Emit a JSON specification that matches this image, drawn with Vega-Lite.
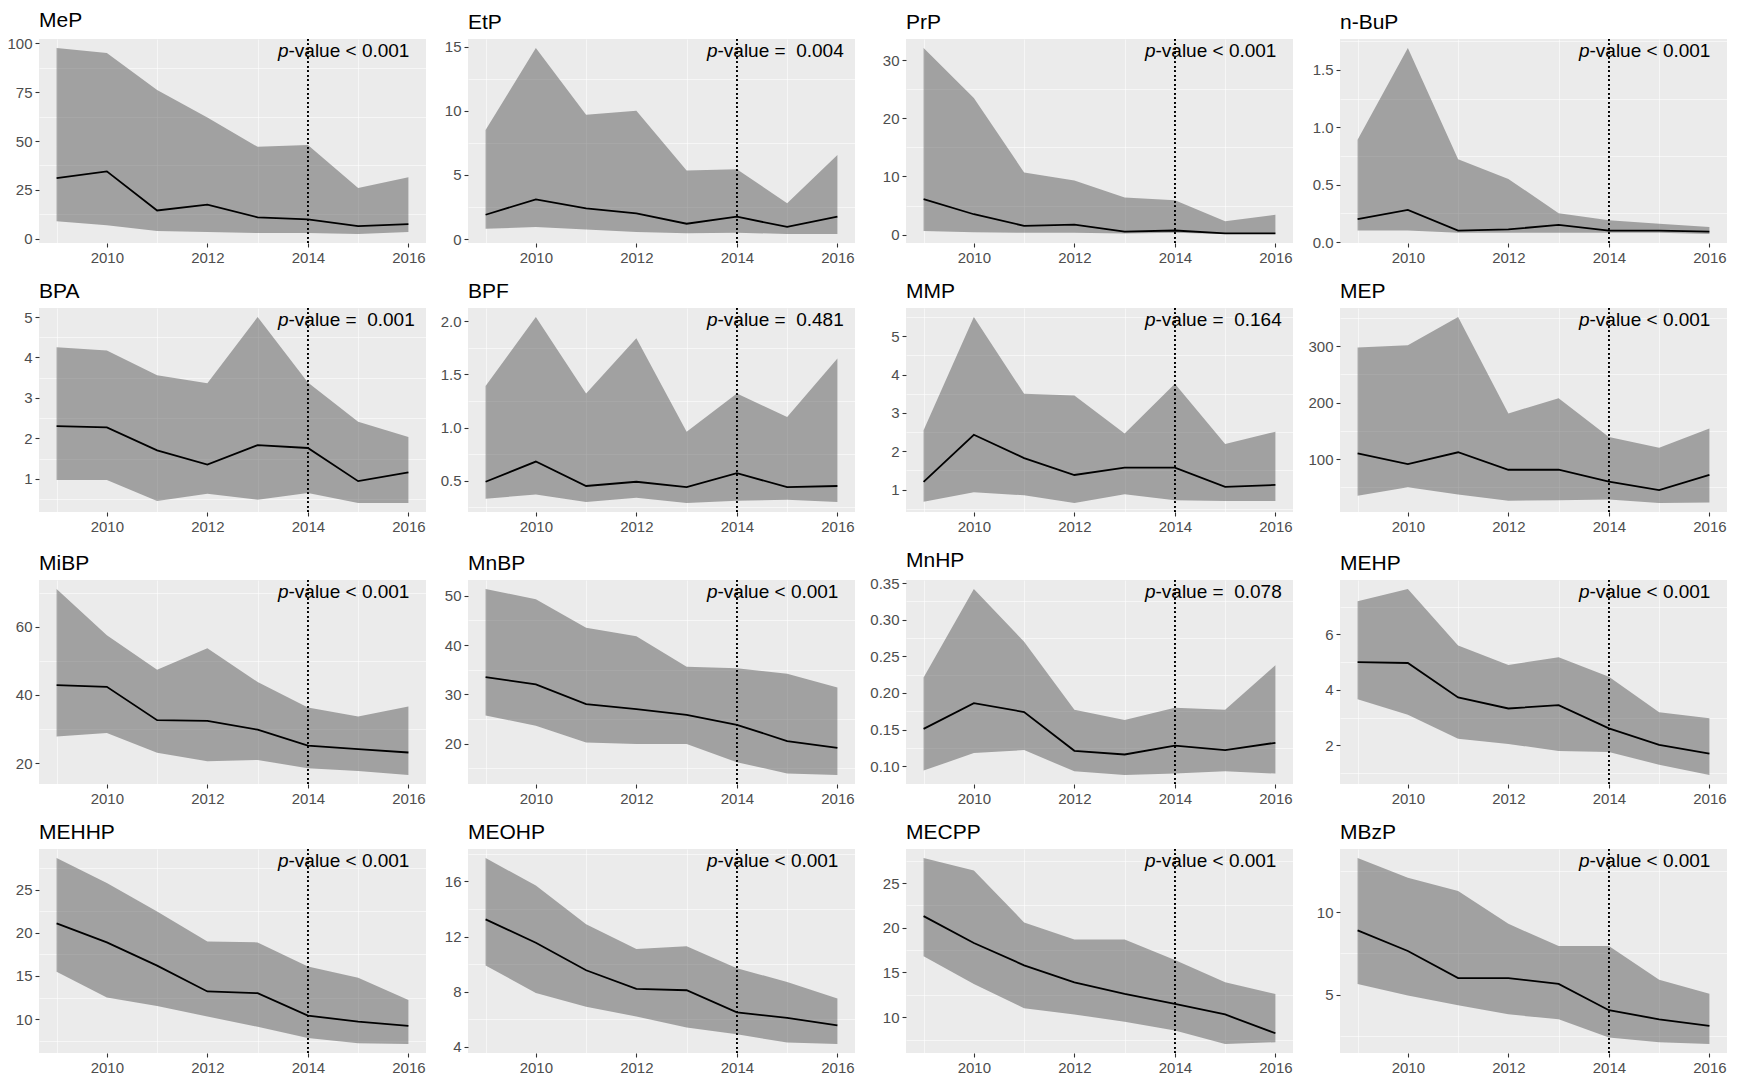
{
"$schema": "https://vega.github.io/schema/vega-lite/v6.json",
"padding": {"left": 6, "top": 10, "right": 0, "bottom": 0},
"columns": 4,
"spacing": {"row": 16, "column": 14},
"data": {"values": [
{"c":"MeP","year":2009,"lo":9,"med":31,"hi":97.5},
{"c":"MeP","year":2010,"lo":7,"med":34.5,"hi":95},
{"c":"MeP","year":2011,"lo":4,"med":14.5,"hi":76},
{"c":"MeP","year":2012,"lo":3.5,"med":17.5,"hi":62},
{"c":"MeP","year":2013,"lo":3,"med":11,"hi":47},
{"c":"MeP","year":2014,"lo":3,"med":10,"hi":48},
{"c":"MeP","year":2015,"lo":2.5,"med":6.5,"hi":26},
{"c":"MeP","year":2016,"lo":3.5,"med":7.5,"hi":31.5},
{"c":"EtP","year":2009,"lo":0.8,"med":1.9,"hi":8.5},
{"c":"EtP","year":2010,"lo":0.95,"med":3.1,"hi":14.9},
{"c":"EtP","year":2011,"lo":0.75,"med":2.4,"hi":9.7},
{"c":"EtP","year":2012,"lo":0.55,"med":2.0,"hi":10.0},
{"c":"EtP","year":2013,"lo":0.45,"med":1.2,"hi":5.35},
{"c":"EtP","year":2014,"lo":0.5,"med":1.75,"hi":5.45},
{"c":"EtP","year":2015,"lo":0.4,"med":0.95,"hi":2.8},
{"c":"EtP","year":2016,"lo":0.4,"med":1.75,"hi":6.55},
{"c":"PrP","year":2009,"lo":0.6,"med":6.1,"hi":32.1},
{"c":"PrP","year":2010,"lo":0.4,"med":3.5,"hi":23.5},
{"c":"PrP","year":2011,"lo":0.3,"med":1.5,"hi":10.7},
{"c":"PrP","year":2012,"lo":0.3,"med":1.7,"hi":9.3},
{"c":"PrP","year":2013,"lo":0.2,"med":0.5,"hi":6.4},
{"c":"PrP","year":2014,"lo":0.3,"med":0.7,"hi":5.9},
{"c":"PrP","year":2015,"lo":0.1,"med":0.2,"hi":2.3},
{"c":"PrP","year":2016,"lo":0.1,"med":0.2,"hi":3.4},
{"c":"n-BuP","year":2009,"lo":0.1,"med":0.2,"hi":0.89},
{"c":"n-BuP","year":2010,"lo":0.1,"med":0.28,"hi":1.69},
{"c":"n-BuP","year":2011,"lo":0.08,"med":0.1,"hi":0.72},
{"c":"n-BuP","year":2012,"lo":0.08,"med":0.11,"hi":0.55},
{"c":"n-BuP","year":2013,"lo":0.08,"med":0.15,"hi":0.25},
{"c":"n-BuP","year":2014,"lo":0.08,"med":0.1,"hi":0.19},
{"c":"n-BuP","year":2015,"lo":0.08,"med":0.1,"hi":0.16},
{"c":"n-BuP","year":2016,"lo":0.07,"med":0.09,"hi":0.13},
{"c":"BPA","year":2009,"lo":0.97,"med":2.3,"hi":4.25},
{"c":"BPA","year":2010,"lo":0.97,"med":2.27,"hi":4.17},
{"c":"BPA","year":2011,"lo":0.45,"med":1.7,"hi":3.56},
{"c":"BPA","year":2012,"lo":0.63,"med":1.35,"hi":3.36},
{"c":"BPA","year":2013,"lo":0.48,"med":1.83,"hi":5.0},
{"c":"BPA","year":2014,"lo":0.65,"med":1.76,"hi":3.38},
{"c":"BPA","year":2015,"lo":0.4,"med":0.94,"hi":2.41},
{"c":"BPA","year":2016,"lo":0.4,"med":1.16,"hi":2.03},
{"c":"BPF","year":2009,"lo":0.33,"med":0.49,"hi":1.39},
{"c":"BPF","year":2010,"lo":0.37,"med":0.68,"hi":2.04},
{"c":"BPF","year":2011,"lo":0.3,"med":0.45,"hi":1.32},
{"c":"BPF","year":2012,"lo":0.34,"med":0.49,"hi":1.84},
{"c":"BPF","year":2013,"lo":0.29,"med":0.44,"hi":0.96},
{"c":"BPF","year":2014,"lo":0.31,"med":0.57,"hi":1.32},
{"c":"BPF","year":2015,"lo":0.32,"med":0.44,"hi":1.1},
{"c":"BPF","year":2016,"lo":0.3,"med":0.45,"hi":1.65},
{"c":"MMP","year":2009,"lo":0.68,"med":1.2,"hi":2.55},
{"c":"MMP","year":2010,"lo":0.93,"med":2.43,"hi":5.5},
{"c":"MMP","year":2011,"lo":0.85,"med":1.82,"hi":3.5},
{"c":"MMP","year":2012,"lo":0.65,"med":1.38,"hi":3.45},
{"c":"MMP","year":2013,"lo":0.88,"med":1.57,"hi":2.46},
{"c":"MMP","year":2014,"lo":0.72,"med":1.57,"hi":3.76},
{"c":"MMP","year":2015,"lo":0.7,"med":1.07,"hi":2.19},
{"c":"MMP","year":2016,"lo":0.7,"med":1.12,"hi":2.51},
{"c":"MEP","year":2009,"lo":35,"med":110,"hi":298},
{"c":"MEP","year":2010,"lo":50,"med":91,"hi":302},
{"c":"MEP","year":2011,"lo":37,"med":112,"hi":352},
{"c":"MEP","year":2012,"lo":26,"med":81,"hi":181},
{"c":"MEP","year":2013,"lo":27,"med":81,"hi":208},
{"c":"MEP","year":2014,"lo":28,"med":60,"hi":139},
{"c":"MEP","year":2015,"lo":22,"med":45,"hi":120},
{"c":"MEP","year":2016,"lo":23,"med":72,"hi":154},
{"c":"MiBP","year":2009,"lo":27.8,"med":42.9,"hi":71.1},
{"c":"MiBP","year":2010,"lo":28.8,"med":42.4,"hi":57.5},
{"c":"MiBP","year":2011,"lo":23.0,"med":32.6,"hi":47.4},
{"c":"MiBP","year":2012,"lo":20.5,"med":32.4,"hi":53.7},
{"c":"MiBP","year":2013,"lo":20.9,"med":29.8,"hi":43.8},
{"c":"MiBP","year":2014,"lo":18.5,"med":25.1,"hi":36.3},
{"c":"MiBP","year":2015,"lo":17.7,"med":24.1,"hi":33.7},
{"c":"MiBP","year":2016,"lo":16.5,"med":23.1,"hi":36.6},
{"c":"MnBP","year":2009,"lo":25.7,"med":33.5,"hi":51.4},
{"c":"MnBP","year":2010,"lo":23.6,"med":32.0,"hi":49.3},
{"c":"MnBP","year":2011,"lo":20.2,"med":28.0,"hi":43.5},
{"c":"MnBP","year":2012,"lo":19.9,"med":27.0,"hi":41.8},
{"c":"MnBP","year":2013,"lo":19.9,"med":25.8,"hi":35.6},
{"c":"MnBP","year":2014,"lo":16.2,"med":23.8,"hi":35.3},
{"c":"MnBP","year":2015,"lo":13.9,"med":20.5,"hi":34.2},
{"c":"MnBP","year":2016,"lo":13.6,"med":19.1,"hi":31.4},
{"c":"MnHP","year":2009,"lo":0.094,"med":0.151,"hi":0.221},
{"c":"MnHP","year":2010,"lo":0.118,"med":0.186,"hi":0.342},
{"c":"MnHP","year":2011,"lo":0.122,"med":0.174,"hi":0.27},
{"c":"MnHP","year":2012,"lo":0.093,"med":0.121,"hi":0.177},
{"c":"MnHP","year":2013,"lo":0.088,"med":0.116,"hi":0.163},
{"c":"MnHP","year":2014,"lo":0.09,"med":0.128,"hi":0.18},
{"c":"MnHP","year":2015,"lo":0.093,"med":0.122,"hi":0.177},
{"c":"MnHP","year":2016,"lo":0.09,"med":0.132,"hi":0.238},
{"c":"MEHP","year":2009,"lo":3.66,"med":5.0,"hi":7.2},
{"c":"MEHP","year":2010,"lo":3.1,"med":4.97,"hi":7.64},
{"c":"MEHP","year":2011,"lo":2.24,"med":3.73,"hi":5.6},
{"c":"MEHP","year":2012,"lo":2.05,"med":3.33,"hi":4.9},
{"c":"MEHP","year":2013,"lo":1.8,"med":3.45,"hi":5.18},
{"c":"MEHP","year":2014,"lo":1.76,"med":2.61,"hi":4.47},
{"c":"MEHP","year":2015,"lo":1.3,"med":2.02,"hi":3.19},
{"c":"MEHP","year":2016,"lo":0.93,"med":1.7,"hi":2.98},
{"c":"MEHHP","year":2009,"lo":15.5,"med":21.1,"hi":28.7},
{"c":"MEHHP","year":2010,"lo":12.5,"med":18.9,"hi":25.8},
{"c":"MEHHP","year":2011,"lo":11.5,"med":16.2,"hi":22.5},
{"c":"MEHHP","year":2012,"lo":10.3,"med":13.2,"hi":19.0},
{"c":"MEHHP","year":2013,"lo":9.1,"med":13.0,"hi":18.9},
{"c":"MEHHP","year":2014,"lo":7.8,"med":10.4,"hi":16.1},
{"c":"MEHHP","year":2015,"lo":7.2,"med":9.7,"hi":14.8},
{"c":"MEHHP","year":2016,"lo":7.1,"med":9.2,"hi":12.2},
{"c":"MEOHP","year":2009,"lo":9.9,"med":13.25,"hi":17.7},
{"c":"MEOHP","year":2010,"lo":7.9,"med":11.55,"hi":15.7},
{"c":"MEOHP","year":2011,"lo":6.9,"med":9.55,"hi":12.9},
{"c":"MEOHP","year":2012,"lo":6.2,"med":8.2,"hi":11.1},
{"c":"MEOHP","year":2013,"lo":5.4,"med":8.1,"hi":11.3},
{"c":"MEOHP","year":2014,"lo":4.9,"med":6.5,"hi":9.7},
{"c":"MEOHP","year":2015,"lo":4.3,"med":6.1,"hi":8.7},
{"c":"MEOHP","year":2016,"lo":4.2,"med":5.55,"hi":7.5},
{"c":"MECPP","year":2009,"lo":16.8,"med":21.3,"hi":27.8},
{"c":"MECPP","year":2010,"lo":13.7,"med":18.3,"hi":26.4},
{"c":"MECPP","year":2011,"lo":11.0,"med":15.8,"hi":20.6},
{"c":"MECPP","year":2012,"lo":10.3,"med":13.9,"hi":18.7},
{"c":"MECPP","year":2013,"lo":9.5,"med":12.6,"hi":18.7},
{"c":"MECPP","year":2014,"lo":8.5,"med":11.5,"hi":16.4},
{"c":"MECPP","year":2015,"lo":7.0,"med":10.3,"hi":13.9},
{"c":"MECPP","year":2016,"lo":7.2,"med":8.2,"hi":12.6},
{"c":"MBzP","year":2009,"lo":5.65,"med":8.9,"hi":13.3},
{"c":"MBzP","year":2010,"lo":4.95,"med":7.65,"hi":12.1},
{"c":"MBzP","year":2011,"lo":4.35,"med":6.0,"hi":11.3},
{"c":"MBzP","year":2012,"lo":3.8,"med":6.0,"hi":9.3},
{"c":"MBzP","year":2013,"lo":3.5,"med":5.65,"hi":7.95},
{"c":"MBzP","year":2014,"lo":2.4,"med":4.05,"hi":7.95},
{"c":"MBzP","year":2015,"lo":2.1,"med":3.5,"hi":5.9},
{"c":"MBzP","year":2016,"lo":2.0,"med":3.1,"hi":5.05}
]},
"concat": [
{"title":"MeP","transform":[{"filter":"datum.c==='MeP'"}],"resolve":{"axis":{"x":"independent","y":"independent"}},"layer":[
{"mark":"area","encoding":{"x":{"field":"year","type":"quantitative","scale":{"domain":[2008.65,2016.35],"nice":false},"axis":{"orient":"bottom","values":[2009,2011,2013,2015],"gridWidth":0.55,"labels":false,"ticks":false,"title":null}},"y":{"field":"lo","type":"quantitative","scale":{"zero":false,"nice":false,"padding":9},"axis":{"orient":"left","values":[12.5,37.5,62.5,87.5],"gridWidth":0.55,"labels":false,"ticks":false,"title":null}},"y2":{"field":"hi"}}},
{"mark":"line","encoding":{"x":{"field":"year","type":"quantitative","axis":{"orient":"bottom","values":[2010,2012,2014,2016],"format":"d","title":null}},"y":{"field":"med","type":"quantitative","axis":{"orient":"left","values":[0,25,50,75,100],"title":null}}}},
{"mark":"rule","encoding":{"x":{"datum":2014,"type":"quantitative","axis":null}}},
{"transform":[{"joinaggregate":[{"op":"max","field":"hi","as":"top"}]},{"filter":"datum.year===2014"}],"encoding":{"x":{"field":"year","type":"quantitative","axis":null},"y":{"field":"top","type":"quantitative","axis":null}},"layer":[{"mark":{"type":"text","text":"p","fontStyle":"italic","dx":-30}},{"mark":{"type":"text","text":"-value < 0.001","dx":-19.4}}]}
]},
{"title":"EtP","transform":[{"filter":"datum.c==='EtP'"}],"resolve":{"axis":{"x":"independent","y":"independent"}},"layer":[
{"mark":"area","encoding":{"x":{"field":"year","type":"quantitative","scale":{"domain":[2008.65,2016.35],"nice":false},"axis":{"orient":"bottom","values":[2009,2011,2013,2015],"gridWidth":0.55,"labels":false,"ticks":false,"title":null}},"y":{"field":"lo","type":"quantitative","scale":{"zero":false,"nice":false,"padding":9},"axis":{"orient":"left","values":[2.5,7.5,12.5],"gridWidth":0.55,"labels":false,"ticks":false,"title":null}},"y2":{"field":"hi"}}},
{"mark":"line","encoding":{"x":{"field":"year","type":"quantitative","axis":{"orient":"bottom","values":[2010,2012,2014,2016],"format":"d","title":null}},"y":{"field":"med","type":"quantitative","axis":{"orient":"left","values":[0,5,10,15],"title":null}}}},
{"mark":"rule","encoding":{"x":{"datum":2014,"type":"quantitative","axis":null}}},
{"transform":[{"joinaggregate":[{"op":"max","field":"hi","as":"top"}]},{"filter":"datum.year===2014"}],"encoding":{"x":{"field":"year","type":"quantitative","axis":null},"y":{"field":"top","type":"quantitative","axis":null}},"layer":[{"mark":{"type":"text","text":"p","fontStyle":"italic","dx":-30}},{"mark":{"type":"text","text":"-value =\u00a0 0.004","dx":-19.4}}]}
]},
{"title":"PrP","transform":[{"filter":"datum.c==='PrP'"}],"resolve":{"axis":{"x":"independent","y":"independent"}},"layer":[
{"mark":"area","encoding":{"x":{"field":"year","type":"quantitative","scale":{"domain":[2008.65,2016.35],"nice":false},"axis":{"orient":"bottom","values":[2009,2011,2013,2015],"gridWidth":0.55,"labels":false,"ticks":false,"title":null}},"y":{"field":"lo","type":"quantitative","scale":{"zero":false,"nice":false,"padding":9},"axis":{"orient":"left","values":[5,15,25],"gridWidth":0.55,"labels":false,"ticks":false,"title":null}},"y2":{"field":"hi"}}},
{"mark":"line","encoding":{"x":{"field":"year","type":"quantitative","axis":{"orient":"bottom","values":[2010,2012,2014,2016],"format":"d","title":null}},"y":{"field":"med","type":"quantitative","axis":{"orient":"left","values":[0,10,20,30],"title":null}}}},
{"mark":"rule","encoding":{"x":{"datum":2014,"type":"quantitative","axis":null}}},
{"transform":[{"joinaggregate":[{"op":"max","field":"hi","as":"top"}]},{"filter":"datum.year===2014"}],"encoding":{"x":{"field":"year","type":"quantitative","axis":null},"y":{"field":"top","type":"quantitative","axis":null}},"layer":[{"mark":{"type":"text","text":"p","fontStyle":"italic","dx":-30}},{"mark":{"type":"text","text":"-value < 0.001","dx":-19.4}}]}
]},
{"title":"n-BuP","transform":[{"filter":"datum.c==='n-BuP'"}],"resolve":{"axis":{"x":"independent","y":"independent"}},"layer":[
{"mark":"area","encoding":{"x":{"field":"year","type":"quantitative","scale":{"domain":[2008.65,2016.35],"nice":false},"axis":{"orient":"bottom","values":[2009,2011,2013,2015],"gridWidth":0.55,"labels":false,"ticks":false,"title":null}},"y":{"field":"lo","type":"quantitative","scale":{"zero":false,"nice":false,"padding":9},"axis":{"orient":"left","values":[0.25,0.75,1.25,1.75],"gridWidth":0.55,"labels":false,"ticks":false,"title":null}},"y2":{"field":"hi"}}},
{"mark":"line","encoding":{"x":{"field":"year","type":"quantitative","axis":{"orient":"bottom","values":[2010,2012,2014,2016],"format":"d","title":null}},"y":{"field":"med","type":"quantitative","axis":{"orient":"left","values":[0,0.5,1,1.5],"format":".1f","title":null}}}},
{"mark":"rule","encoding":{"x":{"datum":2014,"type":"quantitative","axis":null}}},
{"transform":[{"joinaggregate":[{"op":"max","field":"hi","as":"top"}]},{"filter":"datum.year===2014"}],"encoding":{"x":{"field":"year","type":"quantitative","axis":null},"y":{"field":"top","type":"quantitative","axis":null}},"layer":[{"mark":{"type":"text","text":"p","fontStyle":"italic","dx":-30}},{"mark":{"type":"text","text":"-value < 0.001","dx":-19.4}}]}
]},
{"title":"BPA","transform":[{"filter":"datum.c==='BPA'"}],"resolve":{"axis":{"x":"independent","y":"independent"}},"layer":[
{"mark":"area","encoding":{"x":{"field":"year","type":"quantitative","scale":{"domain":[2008.65,2016.35],"nice":false},"axis":{"orient":"bottom","values":[2009,2011,2013,2015],"gridWidth":0.55,"labels":false,"ticks":false,"title":null}},"y":{"field":"lo","type":"quantitative","scale":{"zero":false,"nice":false,"padding":9},"axis":{"orient":"left","values":[0.5,1.5,2.5,3.5,4.5],"gridWidth":0.55,"labels":false,"ticks":false,"title":null}},"y2":{"field":"hi"}}},
{"mark":"line","encoding":{"x":{"field":"year","type":"quantitative","axis":{"orient":"bottom","values":[2010,2012,2014,2016],"format":"d","title":null}},"y":{"field":"med","type":"quantitative","axis":{"orient":"left","values":[1,2,3,4,5],"title":null}}}},
{"mark":"rule","encoding":{"x":{"datum":2014,"type":"quantitative","axis":null}}},
{"transform":[{"joinaggregate":[{"op":"max","field":"hi","as":"top"}]},{"filter":"datum.year===2014"}],"encoding":{"x":{"field":"year","type":"quantitative","axis":null},"y":{"field":"top","type":"quantitative","axis":null}},"layer":[{"mark":{"type":"text","text":"p","fontStyle":"italic","dx":-30}},{"mark":{"type":"text","text":"-value =\u00a0 0.001","dx":-19.4}}]}
]},
{"title":"BPF","transform":[{"filter":"datum.c==='BPF'"}],"resolve":{"axis":{"x":"independent","y":"independent"}},"layer":[
{"mark":"area","encoding":{"x":{"field":"year","type":"quantitative","scale":{"domain":[2008.65,2016.35],"nice":false},"axis":{"orient":"bottom","values":[2009,2011,2013,2015],"gridWidth":0.55,"labels":false,"ticks":false,"title":null}},"y":{"field":"lo","type":"quantitative","scale":{"zero":false,"nice":false,"padding":9},"axis":{"orient":"left","values":[0.25,0.75,1.25,1.75],"gridWidth":0.55,"labels":false,"ticks":false,"title":null}},"y2":{"field":"hi"}}},
{"mark":"line","encoding":{"x":{"field":"year","type":"quantitative","axis":{"orient":"bottom","values":[2010,2012,2014,2016],"format":"d","title":null}},"y":{"field":"med","type":"quantitative","axis":{"orient":"left","values":[0.5,1,1.5,2],"format":".1f","title":null}}}},
{"mark":"rule","encoding":{"x":{"datum":2014,"type":"quantitative","axis":null}}},
{"transform":[{"joinaggregate":[{"op":"max","field":"hi","as":"top"}]},{"filter":"datum.year===2014"}],"encoding":{"x":{"field":"year","type":"quantitative","axis":null},"y":{"field":"top","type":"quantitative","axis":null}},"layer":[{"mark":{"type":"text","text":"p","fontStyle":"italic","dx":-30}},{"mark":{"type":"text","text":"-value =\u00a0 0.481","dx":-19.4}}]}
]},
{"title":"MMP","transform":[{"filter":"datum.c==='MMP'"}],"resolve":{"axis":{"x":"independent","y":"independent"}},"layer":[
{"mark":"area","encoding":{"x":{"field":"year","type":"quantitative","scale":{"domain":[2008.65,2016.35],"nice":false},"axis":{"orient":"bottom","values":[2009,2011,2013,2015],"gridWidth":0.55,"labels":false,"ticks":false,"title":null}},"y":{"field":"lo","type":"quantitative","scale":{"zero":false,"nice":false,"padding":9},"axis":{"orient":"left","values":[0.5,1.5,2.5,3.5,4.5,5.5],"gridWidth":0.55,"labels":false,"ticks":false,"title":null}},"y2":{"field":"hi"}}},
{"mark":"line","encoding":{"x":{"field":"year","type":"quantitative","axis":{"orient":"bottom","values":[2010,2012,2014,2016],"format":"d","title":null}},"y":{"field":"med","type":"quantitative","axis":{"orient":"left","values":[1,2,3,4,5],"title":null}}}},
{"mark":"rule","encoding":{"x":{"datum":2014,"type":"quantitative","axis":null}}},
{"transform":[{"joinaggregate":[{"op":"max","field":"hi","as":"top"}]},{"filter":"datum.year===2014"}],"encoding":{"x":{"field":"year","type":"quantitative","axis":null},"y":{"field":"top","type":"quantitative","axis":null}},"layer":[{"mark":{"type":"text","text":"p","fontStyle":"italic","dx":-30}},{"mark":{"type":"text","text":"-value =\u00a0 0.164","dx":-19.4}}]}
]},
{"title":"MEP","transform":[{"filter":"datum.c==='MEP'"}],"resolve":{"axis":{"x":"independent","y":"independent"}},"layer":[
{"mark":"area","encoding":{"x":{"field":"year","type":"quantitative","scale":{"domain":[2008.65,2016.35],"nice":false},"axis":{"orient":"bottom","values":[2009,2011,2013,2015],"gridWidth":0.55,"labels":false,"ticks":false,"title":null}},"y":{"field":"lo","type":"quantitative","scale":{"zero":false,"nice":false,"padding":9},"axis":{"orient":"left","values":[50,150,250,350],"gridWidth":0.55,"labels":false,"ticks":false,"title":null}},"y2":{"field":"hi"}}},
{"mark":"line","encoding":{"x":{"field":"year","type":"quantitative","axis":{"orient":"bottom","values":[2010,2012,2014,2016],"format":"d","title":null}},"y":{"field":"med","type":"quantitative","axis":{"orient":"left","values":[100,200,300],"title":null}}}},
{"mark":"rule","encoding":{"x":{"datum":2014,"type":"quantitative","axis":null}}},
{"transform":[{"joinaggregate":[{"op":"max","field":"hi","as":"top"}]},{"filter":"datum.year===2014"}],"encoding":{"x":{"field":"year","type":"quantitative","axis":null},"y":{"field":"top","type":"quantitative","axis":null}},"layer":[{"mark":{"type":"text","text":"p","fontStyle":"italic","dx":-30}},{"mark":{"type":"text","text":"-value < 0.001","dx":-19.4}}]}
]},
{"title":"MiBP","transform":[{"filter":"datum.c==='MiBP'"}],"resolve":{"axis":{"x":"independent","y":"independent"}},"layer":[
{"mark":"area","encoding":{"x":{"field":"year","type":"quantitative","scale":{"domain":[2008.65,2016.35],"nice":false},"axis":{"orient":"bottom","values":[2009,2011,2013,2015],"gridWidth":0.55,"labels":false,"ticks":false,"title":null}},"y":{"field":"lo","type":"quantitative","scale":{"zero":false,"nice":false,"padding":9},"axis":{"orient":"left","values":[30,50,70],"gridWidth":0.55,"labels":false,"ticks":false,"title":null}},"y2":{"field":"hi"}}},
{"mark":"line","encoding":{"x":{"field":"year","type":"quantitative","axis":{"orient":"bottom","values":[2010,2012,2014,2016],"format":"d","title":null}},"y":{"field":"med","type":"quantitative","axis":{"orient":"left","values":[20,40,60],"title":null}}}},
{"mark":"rule","encoding":{"x":{"datum":2014,"type":"quantitative","axis":null}}},
{"transform":[{"joinaggregate":[{"op":"max","field":"hi","as":"top"}]},{"filter":"datum.year===2014"}],"encoding":{"x":{"field":"year","type":"quantitative","axis":null},"y":{"field":"top","type":"quantitative","axis":null}},"layer":[{"mark":{"type":"text","text":"p","fontStyle":"italic","dx":-30}},{"mark":{"type":"text","text":"-value < 0.001","dx":-19.4}}]}
]},
{"title":"MnBP","transform":[{"filter":"datum.c==='MnBP'"}],"resolve":{"axis":{"x":"independent","y":"independent"}},"layer":[
{"mark":"area","encoding":{"x":{"field":"year","type":"quantitative","scale":{"domain":[2008.65,2016.35],"nice":false},"axis":{"orient":"bottom","values":[2009,2011,2013,2015],"gridWidth":0.55,"labels":false,"ticks":false,"title":null}},"y":{"field":"lo","type":"quantitative","scale":{"zero":false,"nice":false,"padding":9},"axis":{"orient":"left","values":[15,25,35,45],"gridWidth":0.55,"labels":false,"ticks":false,"title":null}},"y2":{"field":"hi"}}},
{"mark":"line","encoding":{"x":{"field":"year","type":"quantitative","axis":{"orient":"bottom","values":[2010,2012,2014,2016],"format":"d","title":null}},"y":{"field":"med","type":"quantitative","axis":{"orient":"left","values":[20,30,40,50],"title":null}}}},
{"mark":"rule","encoding":{"x":{"datum":2014,"type":"quantitative","axis":null}}},
{"transform":[{"joinaggregate":[{"op":"max","field":"hi","as":"top"}]},{"filter":"datum.year===2014"}],"encoding":{"x":{"field":"year","type":"quantitative","axis":null},"y":{"field":"top","type":"quantitative","axis":null}},"layer":[{"mark":{"type":"text","text":"p","fontStyle":"italic","dx":-30}},{"mark":{"type":"text","text":"-value < 0.001","dx":-19.4}}]}
]},
{"title":"MnHP","transform":[{"filter":"datum.c==='MnHP'"}],"resolve":{"axis":{"x":"independent","y":"independent"}},"layer":[
{"mark":"area","encoding":{"x":{"field":"year","type":"quantitative","scale":{"domain":[2008.65,2016.35],"nice":false},"axis":{"orient":"bottom","values":[2009,2011,2013,2015],"gridWidth":0.55,"labels":false,"ticks":false,"title":null}},"y":{"field":"lo","type":"quantitative","scale":{"zero":false,"nice":false,"padding":9},"axis":{"orient":"left","values":[0.125,0.175,0.225,0.275,0.325],"gridWidth":0.55,"labels":false,"ticks":false,"title":null}},"y2":{"field":"hi"}}},
{"mark":"line","encoding":{"x":{"field":"year","type":"quantitative","axis":{"orient":"bottom","values":[2010,2012,2014,2016],"format":"d","title":null}},"y":{"field":"med","type":"quantitative","axis":{"orient":"left","values":[0.1,0.15,0.2,0.25,0.3,0.35],"format":".2f","title":null}}}},
{"mark":"rule","encoding":{"x":{"datum":2014,"type":"quantitative","axis":null}}},
{"transform":[{"joinaggregate":[{"op":"max","field":"hi","as":"top"}]},{"filter":"datum.year===2014"}],"encoding":{"x":{"field":"year","type":"quantitative","axis":null},"y":{"field":"top","type":"quantitative","axis":null}},"layer":[{"mark":{"type":"text","text":"p","fontStyle":"italic","dx":-30}},{"mark":{"type":"text","text":"-value =\u00a0 0.078","dx":-19.4}}]}
]},
{"title":"MEHP","transform":[{"filter":"datum.c==='MEHP'"}],"resolve":{"axis":{"x":"independent","y":"independent"}},"layer":[
{"mark":"area","encoding":{"x":{"field":"year","type":"quantitative","scale":{"domain":[2008.65,2016.35],"nice":false},"axis":{"orient":"bottom","values":[2009,2011,2013,2015],"gridWidth":0.55,"labels":false,"ticks":false,"title":null}},"y":{"field":"lo","type":"quantitative","scale":{"zero":false,"nice":false,"padding":9},"axis":{"orient":"left","values":[1,3,5,7],"gridWidth":0.55,"labels":false,"ticks":false,"title":null}},"y2":{"field":"hi"}}},
{"mark":"line","encoding":{"x":{"field":"year","type":"quantitative","axis":{"orient":"bottom","values":[2010,2012,2014,2016],"format":"d","title":null}},"y":{"field":"med","type":"quantitative","axis":{"orient":"left","values":[2,4,6],"title":null}}}},
{"mark":"rule","encoding":{"x":{"datum":2014,"type":"quantitative","axis":null}}},
{"transform":[{"joinaggregate":[{"op":"max","field":"hi","as":"top"}]},{"filter":"datum.year===2014"}],"encoding":{"x":{"field":"year","type":"quantitative","axis":null},"y":{"field":"top","type":"quantitative","axis":null}},"layer":[{"mark":{"type":"text","text":"p","fontStyle":"italic","dx":-30}},{"mark":{"type":"text","text":"-value < 0.001","dx":-19.4}}]}
]},
{"title":"MEHHP","transform":[{"filter":"datum.c==='MEHHP'"}],"resolve":{"axis":{"x":"independent","y":"independent"}},"layer":[
{"mark":"area","encoding":{"x":{"field":"year","type":"quantitative","scale":{"domain":[2008.65,2016.35],"nice":false},"axis":{"orient":"bottom","values":[2009,2011,2013,2015],"gridWidth":0.55,"labels":false,"ticks":false,"title":null}},"y":{"field":"lo","type":"quantitative","scale":{"zero":false,"nice":false,"padding":9},"axis":{"orient":"left","values":[7.5,12.5,17.5,22.5,27.5],"gridWidth":0.55,"labels":false,"ticks":false,"title":null}},"y2":{"field":"hi"}}},
{"mark":"line","encoding":{"x":{"field":"year","type":"quantitative","axis":{"orient":"bottom","values":[2010,2012,2014,2016],"format":"d","title":null}},"y":{"field":"med","type":"quantitative","axis":{"orient":"left","values":[10,15,20,25],"title":null}}}},
{"mark":"rule","encoding":{"x":{"datum":2014,"type":"quantitative","axis":null}}},
{"transform":[{"joinaggregate":[{"op":"max","field":"hi","as":"top"}]},{"filter":"datum.year===2014"}],"encoding":{"x":{"field":"year","type":"quantitative","axis":null},"y":{"field":"top","type":"quantitative","axis":null}},"layer":[{"mark":{"type":"text","text":"p","fontStyle":"italic","dx":-30}},{"mark":{"type":"text","text":"-value < 0.001","dx":-19.4}}]}
]},
{"title":"MEOHP","transform":[{"filter":"datum.c==='MEOHP'"}],"resolve":{"axis":{"x":"independent","y":"independent"}},"layer":[
{"mark":"area","encoding":{"x":{"field":"year","type":"quantitative","scale":{"domain":[2008.65,2016.35],"nice":false},"axis":{"orient":"bottom","values":[2009,2011,2013,2015],"gridWidth":0.55,"labels":false,"ticks":false,"title":null}},"y":{"field":"lo","type":"quantitative","scale":{"zero":false,"nice":false,"padding":9},"axis":{"orient":"left","values":[6,10,14,18],"gridWidth":0.55,"labels":false,"ticks":false,"title":null}},"y2":{"field":"hi"}}},
{"mark":"line","encoding":{"x":{"field":"year","type":"quantitative","axis":{"orient":"bottom","values":[2010,2012,2014,2016],"format":"d","title":null}},"y":{"field":"med","type":"quantitative","axis":{"orient":"left","values":[4,8,12,16],"title":null}}}},
{"mark":"rule","encoding":{"x":{"datum":2014,"type":"quantitative","axis":null}}},
{"transform":[{"joinaggregate":[{"op":"max","field":"hi","as":"top"}]},{"filter":"datum.year===2014"}],"encoding":{"x":{"field":"year","type":"quantitative","axis":null},"y":{"field":"top","type":"quantitative","axis":null}},"layer":[{"mark":{"type":"text","text":"p","fontStyle":"italic","dx":-30}},{"mark":{"type":"text","text":"-value < 0.001","dx":-19.4}}]}
]},
{"title":"MECPP","transform":[{"filter":"datum.c==='MECPP'"}],"resolve":{"axis":{"x":"independent","y":"independent"}},"layer":[
{"mark":"area","encoding":{"x":{"field":"year","type":"quantitative","scale":{"domain":[2008.65,2016.35],"nice":false},"axis":{"orient":"bottom","values":[2009,2011,2013,2015],"gridWidth":0.55,"labels":false,"ticks":false,"title":null}},"y":{"field":"lo","type":"quantitative","scale":{"zero":false,"nice":false,"padding":9},"axis":{"orient":"left","values":[7.5,12.5,17.5,22.5,27.5],"gridWidth":0.55,"labels":false,"ticks":false,"title":null}},"y2":{"field":"hi"}}},
{"mark":"line","encoding":{"x":{"field":"year","type":"quantitative","axis":{"orient":"bottom","values":[2010,2012,2014,2016],"format":"d","title":null}},"y":{"field":"med","type":"quantitative","axis":{"orient":"left","values":[10,15,20,25],"title":null}}}},
{"mark":"rule","encoding":{"x":{"datum":2014,"type":"quantitative","axis":null}}},
{"transform":[{"joinaggregate":[{"op":"max","field":"hi","as":"top"}]},{"filter":"datum.year===2014"}],"encoding":{"x":{"field":"year","type":"quantitative","axis":null},"y":{"field":"top","type":"quantitative","axis":null}},"layer":[{"mark":{"type":"text","text":"p","fontStyle":"italic","dx":-30}},{"mark":{"type":"text","text":"-value < 0.001","dx":-19.4}}]}
]},
{"title":"MBzP","transform":[{"filter":"datum.c==='MBzP'"}],"resolve":{"axis":{"x":"independent","y":"independent"}},"layer":[
{"mark":"area","encoding":{"x":{"field":"year","type":"quantitative","scale":{"domain":[2008.65,2016.35],"nice":false},"axis":{"orient":"bottom","values":[2009,2011,2013,2015],"gridWidth":0.55,"labels":false,"ticks":false,"title":null}},"y":{"field":"lo","type":"quantitative","scale":{"zero":false,"nice":false,"padding":9},"axis":{"orient":"left","values":[2.5,7.5,12.5],"gridWidth":0.55,"labels":false,"ticks":false,"title":null}},"y2":{"field":"hi"}}},
{"mark":"line","encoding":{"x":{"field":"year","type":"quantitative","axis":{"orient":"bottom","values":[2010,2012,2014,2016],"format":"d","title":null}},"y":{"field":"med","type":"quantitative","axis":{"orient":"left","values":[5,10],"title":null}}}},
{"mark":"rule","encoding":{"x":{"datum":2014,"type":"quantitative","axis":null}}},
{"transform":[{"joinaggregate":[{"op":"max","field":"hi","as":"top"}]},{"filter":"datum.year===2014"}],"encoding":{"x":{"field":"year","type":"quantitative","axis":null},"y":{"field":"top","type":"quantitative","axis":null}},"layer":[{"mark":{"type":"text","text":"p","fontStyle":"italic","dx":-30}},{"mark":{"type":"text","text":"-value < 0.001","dx":-19.4}}]}
]}
],
"config": {
"background": "white",
"view": {"fill": "#EBEBEB", "stroke": null, "continuousWidth": 387, "continuousHeight": 204},
"axis": {"domain": false, "grid": true, "gridColor": "white", "gridWidth": 1.1, "tickColor": "#333333", "tickSize": 4, "tickWidth": 1.1, "labelFont": "Liberation Sans", "labelFontSize": 15, "labelColor": "#4D4D4D", "labelPadding": 3, "labelFlush": false, "labelOverlap": false},
"area": {"color": "#333333", "opacity": 0.4},
"line": {"color": "black", "strokeWidth": 1.8},
"rule": {"color": "black", "strokeWidth": 1.1, "strokeDash": [1.5, 3]},
"text": {"font": "Liberation Sans", "fontSize": 19, "color": "black", "align": "left", "baseline": "alphabetic", "dy": 9},
"title": {"font": "Liberation Sans", "fontSize": 21, "fontWeight": "normal", "anchor": "start", "frame": "group", "color": "black", "offset": 5}
}
}
